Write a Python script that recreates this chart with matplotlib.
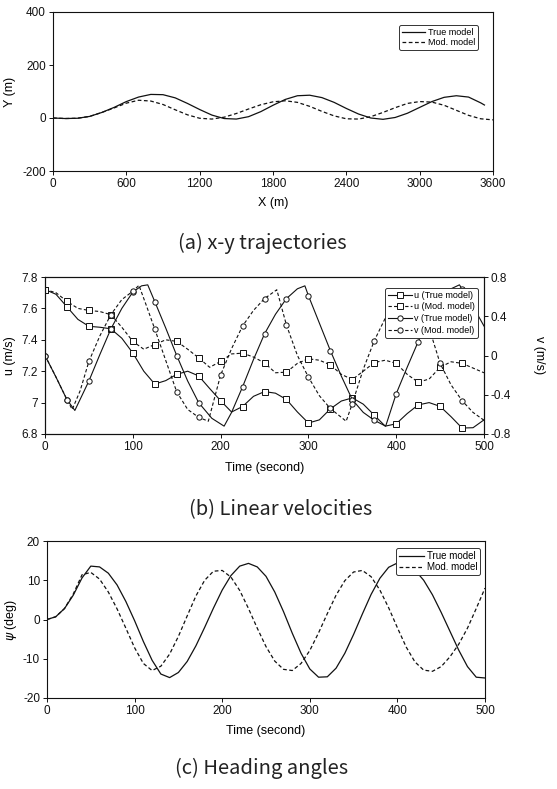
import numpy as np
import matplotlib.pyplot as plt
from matplotlib.ticker import FormatStrFormatter

plt.rcParams['font.family'] = ['Liberation Sans', 'DejaVu Sans']
plt.rcParams['axes.unicode_minus'] = False
plt.rcParams['mathtext.fontset'] = 'dejavusans'

# ---------------------------------------------------------------
# (a) x-y trajectories  [m]
# ---------------------------------------------------------------
x_true = [0, 100, 200, 300, 400, 500, 600, 700, 800, 900, 1000, 1100, 1200,
          1300, 1400, 1500, 1600, 1700, 1800, 1900, 2000, 2100, 2200, 2300,
          2400, 2500, 2600, 2700, 2800, 2900, 3000, 3100, 3200, 3300, 3400,
          3500, 3530]
y_true = [0, -2, -1, 6, 21, 40, 62, 79, 89, 88, 76, 55, 32,
          11, -2, -4, 5, 24, 48, 70, 84, 86, 77, 59,
          36, 15, 0, -5, 2, 18, 40, 62, 78, 84, 79,
          57, 49]
x_mod = [0, 100, 200, 300, 400, 500, 600, 700, 800, 900, 1000, 1100, 1200,
         1300, 1400, 1500, 1600, 1700, 1800, 1900, 2000, 2100, 2200, 2300,
         2400, 2500, 2600, 2700, 2800, 2900, 3000, 3100, 3200, 3300, 3400,
         3500, 3600]
y_mod = [0, -2, -1, 6, 21, 38, 56, 67, 64, 51, 31, 12, -1,
         -4, 3, 17, 34, 50, 61, 65, 59, 44, 25, 8,
         -3, -4, 5, 21, 39, 55, 62, 60, 48, 29, 10,
         -3, -7]

# ---------------------------------------------------------------
# (b) linear velocities
# ---------------------------------------------------------------
u_t = np.arange(0, 500.1, 12.5)
u_true = [7.72, 7.69, 7.61, 7.53, 7.486, 7.48, 7.47, 7.41, 7.316, 7.20,
          7.118, 7.14, 7.18, 7.20, 7.17, 7.09, 7.012, 6.94, 6.975, 7.04,
          7.07, 7.06, 7.02, 6.94, 6.87, 6.89, 6.96, 7.01, 7.03, 6.99,
          6.92, 6.85, 6.865, 6.93, 6.985, 7.0, 6.976, 6.91, 6.838, 6.84,
          6.89]
u_mod = [7.72, 7.70, 7.645, 7.60, 7.587, 7.58, 7.56, 7.48, 7.39, 7.34,
         7.37, 7.40, 7.39, 7.34, 7.285, 7.225, 7.262, 7.31, 7.315, 7.29,
         7.253, 7.19, 7.194, 7.25, 7.279, 7.27, 7.24, 7.18, 7.147, 7.20,
         7.255, 7.27, 7.25, 7.18, 7.13, 7.15, 7.225, 7.26, 7.25, 7.22,
         7.19]

vt_t = [0, 12.5, 25, 34, 50, 62.5, 75, 87.5, 100, 110,
        117, 125, 137.5, 150, 162.5, 175, 190, 204, 212.5, 225,
        237.5, 250, 262.5, 275, 287.5, 296, 300, 312.5, 325, 337.5,
        350, 362.5, 375, 388, 400, 412.5, 425, 437.5, 450, 462.5,
        472, 475, 487.5, 500]
v_true = [0, -0.22, -0.45, -0.56, -0.26, 0.01, 0.27, 0.48, 0.646, 0.71,
          0.72, 0.55, 0.28, 0.0, -0.26, -0.48, -0.64, -0.72, -0.58, -0.32,
          -0.04, 0.22, 0.42, 0.58, 0.68, 0.71, 0.61, 0.33, 0.05, -0.21,
          -0.45, -0.58, -0.66, -0.72, -0.39, -0.12, 0.14, 0.38, 0.56, 0.68,
          0.72, 0.68, 0.5, 0.3]

vm_t = [0, 12.5, 25, 31, 40, 50, 62.5, 75, 87.5, 100,
        107, 115, 125, 137.5, 150, 162.5, 175, 186, 200, 212.5,
        225, 237.5, 250, 264, 275, 287.5, 300, 312.5, 325, 343,
        350, 362.5, 375, 387.5, 400, 412.5, 421, 425, 437.5, 450,
        462.5, 475, 487.5, 500]
v_mod = [0, -0.22, -0.45, -0.55, -0.36, -0.06, 0.2, 0.416, 0.57, 0.655,
         0.715, 0.52, 0.27, -0.05, -0.37, -0.55, -0.63, -0.67, -0.2, 0.07,
         0.30, 0.46, 0.58, 0.67, 0.31, 0.0, -0.22, -0.41, -0.54, -0.67,
         -0.49, -0.14, 0.15, 0.38, 0.54, 0.64, 0.68, 0.6, 0.28, -0.08,
         -0.30, -0.46, -0.58, -0.66]

# ---------------------------------------------------------------
# (c) heading angles  [deg]
# ---------------------------------------------------------------
psi_t = np.arange(0, 501, 10)
psi_true = [0, 0.7, 2.8, 6.2, 10.6, 13.6, 13.4, 11.8, 8.8, 4.6,
            -0.3, -5.6, -10.4, -13.9, -14.8, -13.5, -10.7, -6.7, -2.0, 2.9,
            7.5, 11.2, 13.6, 14.3, 13.4, 11.0, 7.0, 2.0, -3.5, -8.6,
            -12.6, -14.7, -14.6, -12.4, -8.6, -3.8, 1.4, 6.4, 10.5, 13.3,
            14.4, 14.0, 12.6, 10.0, 6.3, 1.8, -3.0, -7.8, -12.0, -14.7,
            -14.9]
psi_mod = [0, 0.7, 2.8, 6.5, 11.4, 12.0, 10.3, 7.0, 2.7, -2.2,
           -7.2, -11.2, -13.0, -11.9, -8.8, -4.3, 0.9, 6.0, 10.0, 12.3,
           12.5, 10.8, 7.4, 2.8, -2.2, -6.9, -10.6, -12.7, -13.0, -11.2,
           -7.9, -3.4, 1.5, 6.2, 9.9, 12.1, 12.5, 10.9, 7.5, 3.0,
           -2.1, -7.0, -10.8, -12.9, -13.2, -12.0, -9.5, -6.3, -2.2, 2.8,
           8.0]

captions = ["(a) x-y trajectories", "(b) Linear velocities", "(c) Heading angles"]

# ---------------------------------------------------------------
# figure layout (pixel based)
# ---------------------------------------------------------------
W, H = 557, 789
fig = plt.figure(figsize=(W / 100, H / 100), dpi=100)
INK = '#111111'


def add_axes_px(left, top, right, bottom):
    return fig.add_axes([left / W, 1 - bottom / H,
                         (right - left) / W, (bottom - top) / H])


def style(ax):
    for s in ax.spines.values():
        s.set_linewidth(0.8)
        s.set_color(INK)
    ax.tick_params(labelsize=8.5, length=3, width=0.7, direction='out',
                   colors=INK, pad=2)


def legend_box(ax, handles, labels, anchor, fs, spacing=0.15):
    leg = ax.legend(handles, labels, loc='upper right', bbox_to_anchor=anchor,
                    fontsize=fs, frameon=True, fancybox=True, framealpha=1,
                    edgecolor='#333333', borderpad=0.3, labelspacing=spacing,
                    handlelength=2.6, handletextpad=0.3, borderaxespad=0)
    leg.get_frame().set_linewidth(0.7)
    return leg


# --- (a) ---
ax1 = add_axes_px(53, 12, 493, 171)
l1, = ax1.plot(x_true, y_true, '-', color=INK, lw=0.9)
l2, = ax1.plot(x_mod, y_mod, '--', color=INK, lw=0.9, dashes=(3, 2))
ax1.set_xlim(0, 3600)
ax1.set_ylim(-200, 400)
ax1.set_xticks(range(0, 3601, 600))
ax1.set_yticks([-200, 0, 200, 400])
ax1.set_xlabel('X (m)', fontsize=9)
ax1.set_ylabel('Y (m)', fontsize=9)
ax1.xaxis.set_label_coords(0.5, -0.165)
ax1.yaxis.set_label_coords(-0.084, 0.5)
style(ax1)
legend_box(ax1, [l1, l2], ['True model', 'Mod. model'], (0.966, 0.918), 6.5)

# --- (b) ---
ax2 = add_axes_px(45, 277, 484, 434)
ax2r = ax2.twinx()


def marks(ts):
    return [i for i, t in enumerate(ts) if t % 25 == 0 and t < 500]


mk = dict(color=INK, lw=0.8, markerfacecolor='white', markeredgecolor=INK,
          markeredgewidth=0.7)
h1, = ax2.plot(u_t, u_true, '-', marker='s', ms=4.2, markevery=marks(u_t), **mk)
h2, = ax2.plot(u_t, u_mod, '--', marker='s', ms=4.2, markevery=marks(u_t),
               dashes=(3, 2), **mk)
h3, = ax2r.plot(vt_t, v_true, '-', marker='o', ms=3.8, markevery=marks(vt_t), **mk)
h4, = ax2r.plot(vm_t, v_mod, '--', marker='o', ms=3.8, markevery=marks(vm_t),
                dashes=(3, 2), **mk)
ax2.set_xlim(0, 500)
ax2.set_ylim(6.8, 7.8)
ax2r.set_ylim(-0.8, 0.8)
ax2.set_xticks(range(0, 501, 100))
ax2.set_yticks([6.8, 7.0, 7.2, 7.4, 7.6, 7.8])
ax2r.set_yticks([-0.8, -0.4, 0, 0.4, 0.8])
ax2.yaxis.set_major_formatter(FormatStrFormatter('%g'))
ax2r.yaxis.set_major_formatter(FormatStrFormatter('%g'))
ax2.set_xlabel('Time (second)', fontsize=9)
ax2.set_ylabel('u (m/s)', fontsize=9)
ax2r.set_ylabel('v (m/s)', fontsize=9, rotation=270)
ax2.xaxis.set_label_coords(0.5, -0.178)
ax2.yaxis.set_label_coords(-0.066, 0.5)
ax2r.yaxis.set_label_coords(1.14, 0.5)
style(ax2)
style(ax2r)
legend_box(ax2r, [h1, h2, h3, h4],
           ['u (True model)', 'u (Mod. model)', 'v (True model)', 'v (Mod. model)'],
           (0.986, 0.93), 6.5, spacing=0.3)

# --- (c) ---
ax3 = add_axes_px(47, 541, 485, 698)
p1, = ax3.plot(psi_t, psi_true, '-', color=INK, lw=0.9)
p2, = ax3.plot(psi_t, psi_mod, '--', color=INK, lw=0.9, dashes=(3, 2))
ax3.set_xlim(0, 500)
ax3.set_ylim(-20, 20)
ax3.set_xticks(range(0, 501, 100))
ax3.set_yticks([-20, -10, 0, 10, 20])
ax3.set_xlabel('Time (second)', fontsize=9)
ax3.set_ylabel(r'$\psi$ (deg)', fontsize=9)
ax3.xaxis.set_label_coords(0.5, -0.172)
ax3.yaxis.set_label_coords(-0.064, 0.5)
style(ax3)
legend_box(ax3, [p1, p2], ['True model', 'Mod. model'], (0.989, 0.955), 7.0)

# captions
for (cx, cy), text in zip([(262, 243), (281, 510), (262, 768)], captions):
    fig.text(cx / W, 1 - cy / H, text, ha='center', va='center',
             fontsize=14.5, family=['Noto Sans CJK KR', 'DejaVu Sans'],
             color='#222222')

fig.savefig('out.png', dpi=100)
